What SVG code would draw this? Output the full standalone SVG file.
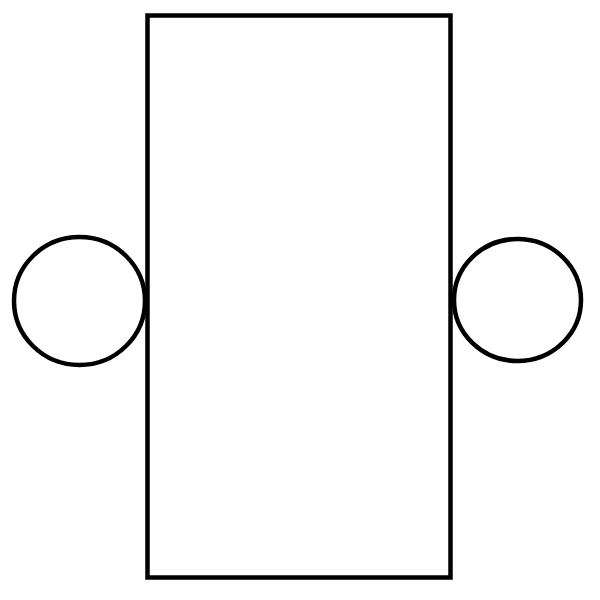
<svg xmlns="http://www.w3.org/2000/svg" width="600" height="600" viewBox="0 0 600 600">
<style>
.s{fill:none;stroke:#000;stroke-width:4.5}
</style>
<rect width="600" height="600" fill="#fff"/>
<g id="body"><rect class="s" x="147.5" y="15.5" width="303" height="562"/></g>
<g id="left-circle"><ellipse class="s" cx="79.5" cy="301" rx="65.5" ry="64"/></g>
<g id="right-circle"><ellipse class="s" cx="517.5" cy="300" rx="63.5" ry="61"/></g>
<g id="connectors"></g>
</svg>
